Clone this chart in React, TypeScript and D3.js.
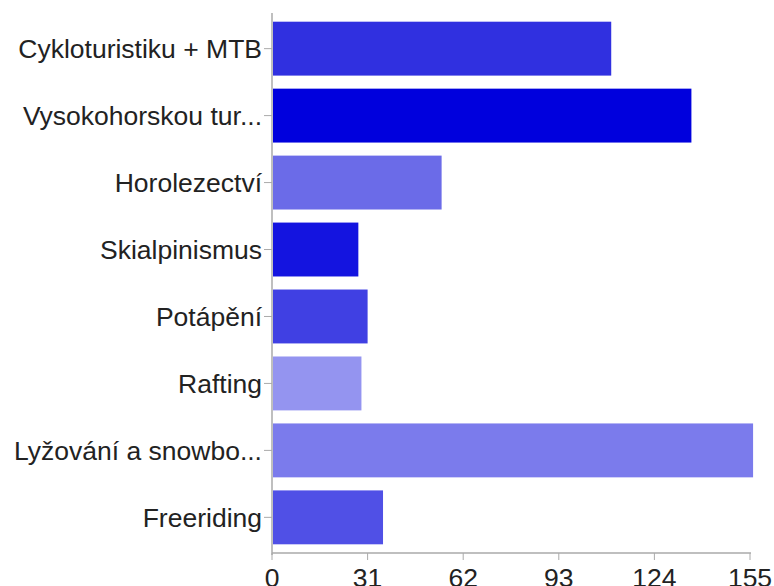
import React from "react";
import * as d3 from "d3";

const categories = [
  "Cykloturistiku + MTB",
  "Vysokohorskou tur...",
  "Horolezectví",
  "Skialpinismus",
  "Potápění",
  "Rafting",
  "Lyžování a snowbo...",
  "Freeriding",
];
const values = [110, 136, 55, 28, 31, 29, 156, 36];
const colors = ["#3030e0", "#0000dd", "#6b6be8", "#1414e0", "#4040e3", "#9494f0", "#7b7bec", "#5050e6"];
const xTicks = [0, 31, 62, 93, 124, 155];

const W = 774;
const H = 586;
const left = 272;
const right = 750;
const top = 15;
const bottom = 553;

export default function App() {
  const x = d3.scaleLinear().domain([0, 155]).range([left, right]);
  const y = d3.scaleBand<string>().domain(categories).range([top, bottom - 2]).paddingInner(0.195).paddingOuter(0.1);
  const font = "'Liberation Sans', Arial, sans-serif";
  return (
    <svg width={W} height={H} style={{ position: "absolute", left: 0, top: 0, background: "#fff" }}>
      {categories.map((c, i) => (
        <rect
          key={c}
          x={x(0) + 1}
          y={y(c)!}
          width={x(values[i]) - x(0) - 1}
          height={y.bandwidth()}
          fill={colors[i]}
        />
      ))}
      <line x1={left} x2={left} y1={13} y2={bottom + 2} stroke="#aaa" strokeWidth={1.5} />
      <line x1={left} x2={right + 1} y1={bottom} y2={bottom} stroke="#aaa" strokeWidth={1.5} />
      {categories.map((c) => {
        const cy = y(c)! + y.bandwidth() / 2;
        return (
          <g key={c}>
            <line x1={left - 8} x2={left} y1={cy} y2={cy} stroke="#aaa" strokeWidth={1} />
            <text x={left - 10} y={cy} dy="0.35em" textAnchor="end" fontFamily={font} fontSize={26.5} fill="#222">
              {c}
            </text>
          </g>
        );
      })}
      {xTicks.map((t) => (
        <g key={t}>
          <line x1={x(t)} x2={x(t)} y1={bottom} y2={bottom + 7} stroke="#aaa" strokeWidth={1} />
          <text x={x(t)} y={587} textAnchor="middle" fontFamily={font} fontSize={26.5} fill="#222">
            {t}
          </text>
        </g>
      ))}
    </svg>
  );
}
